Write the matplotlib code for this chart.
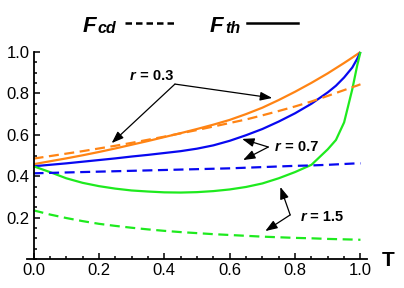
import matplotlib
matplotlib.use("Agg")
import matplotlib.pyplot as plt
from matplotlib.lines import Line2D
from matplotlib.ticker import MultipleLocator

plt.rcParams['font.family'] = ['Liberation Sans', 'DejaVu Sans']

# values
T = [0, .05, .1, .15, .2, .25, .3, .35, .4, .45, .5, .55, .6, .65, .7, .75,
     .8, .85, .9, .925, .95, .975, .99, 1.0]

fth_03 = [0.458, 0.472, 0.486, 0.501, 0.517, 0.534, 0.552, 0.57, 0.589, 0.608,
          0.628, 0.649, 0.672, 0.70, 0.731, 0.768, 0.808, 0.851, 0.897, 0.922,
          0.947, 0.973, 0.989, 1.0]
fcd_03 = [0.485, 0.497, 0.509, 0.521, 0.534, 0.547, 0.561, 0.576, 0.591, 0.607,
          0.623, 0.64, 0.657, 0.674, 0.694, 0.715, 0.737, 0.761, 0.788, 0.802,
          0.816, 0.83, 0.838, 0.844]
fth_07 = [0.448, 0.455, 0.462, 0.47, 0.478, 0.486, 0.495, 0.503, 0.512, 0.521,
          0.533, 0.549, 0.571, 0.598, 0.628, 0.664, 0.704, 0.75, 0.805, 0.837,
          0.877, 0.925, 0.967, 1.0]
fcd_07 = [0.414, 0.416, 0.418, 0.42, 0.422, 0.424, 0.426, 0.428, 0.43, 0.432,
          0.434, 0.436, 0.438, 0.441, 0.444, 0.447, 0.45, 0.452, 0.455, 0.457,
          0.459, 0.461, 0.462, 0.462]
fth_15 = [0.448, 0.42, 0.39, 0.368, 0.352, 0.34, 0.331, 0.326, 0.322, 0.321,
          0.323, 0.328, 0.336, 0.348, 0.365, 0.39, 0.42, 0.455, 0.53, 0.575,
          0.66, 0.82, 0.935, 1.0]
fcd_15 = [0.235, 0.215, 0.198, 0.183, 0.17, 0.16, 0.151, 0.143, 0.136, 0.13,
          0.125, 0.12, 0.116, 0.112, 0.108, 0.105, 0.102, 0.1, 0.097, 0.096,
          0.095, 0.094, 0.093, 0.093]

orange = '#FF8414'
blue = '#0808F0'
green = '#1EEA1E'

fig = plt.figure(figsize=(4.04, 2.88), dpi=100)
ax = fig.add_axes([27 / 404, 29 / 288, 340 / 404, 207 / 288])

lw = 1.6
dash = (0, (4.5, 2.5))
for y, c in [(fth_03, orange), (fth_07, blue), (fth_15, green)]:
    ax.plot(T, y, color=c, lw=lw, clip_on=False, solid_capstyle='butt')
for y, c in [(fcd_03, orange), (fcd_07, blue), (fcd_15, green)]:
    ax.plot(T, y, color=c, lw=lw, ls=dash, clip_on=False)

ax.set_xlim(-0.02, 1.02)
ax.set_ylim(0, 1.0)
ax.spines['left'].set_position(('data', 0))
ax.spines['top'].set_visible(False)
ax.spines['right'].set_visible(False)
for s in ['left', 'bottom']:
    ax.spines[s].set_linewidth(1.3)
ax.set_xticks([0, 0.2, 0.4, 0.6, 0.8, 1.0])
ax.set_yticks([0.2, 0.4, 0.6, 0.8, 1.0])
ax.xaxis.set_minor_locator(MultipleLocator(0.05))
ax.yaxis.set_minor_locator(MultipleLocator(0.05))
ax.tick_params(which='both', direction='in', width=1.1, labelsize=12, pad=3)
ax.tick_params(which='major', length=4.5)
ax.tick_params(which='minor', length=2.5)
ax.set_xticklabels(['0.0', '0.2', '0.4', '0.6', '0.8', '1.0'])
ax.set_yticklabels(['0.2', '0.4', '0.6', '0.8', '1.0'])

fig.text(382 / 404, 1 - 261 / 288, 'T', fontsize=15, fontweight='bold',
         va='center', ha='left')

# arrows
aprops = dict(arrowstyle='-|>,head_length=0.6,head_width=0.22', color='black',
              lw=0.9, shrinkA=0, shrinkB=0, mutation_scale=12)
arrows = [
    ((0.4325, 0.845), (0.239, 0.560)),
    ((0.4325, 0.845), (0.730, 0.778)),
    ((0.718, 0.541), (0.638, 0.580)),
    ((0.718, 0.541), (0.641, 0.478)),
    ((0.785, 0.213), (0.755, 0.348)),
    ((0.785, 0.213), (0.709, 0.135)),
]
for start, end in arrows:
    ax.annotate('', xy=end, xytext=start, arrowprops=aprops)

labels = [((0.295, 0.885), '0.3'), ((0.739, 0.541), '0.7'),
          ((0.816, 0.203), '1.5')]
for (x, y), v in labels:
    t = ax.text(x, y, 'r', fontsize=10.5, fontweight='bold', fontstyle='italic',
                va='center', ha='left')
    ax.annotate(' = ' + v, xy=(1, 0), xycoords=t, fontsize=10.5,
                fontweight='bold', va='bottom', ha='left')

# legend on top
fig.text(83 / 404, 1 - 32 / 288, 'F', fontsize=16, fontweight='bold',
         fontstyle='italic', va='baseline')
fig.text(98 / 404, 1 - 33 / 288, 'cd', fontsize=11.5, fontweight='bold',
         fontstyle='italic', va='baseline')
fig.text(210 / 404, 1 - 32 / 288, 'F', fontsize=16, fontweight='bold',
         fontstyle='italic', va='baseline')
fig.text(225 / 404, 1 - 33 / 288, 'th', fontsize=11.5, fontweight='bold',
         fontstyle='italic', va='baseline')
fig.add_artist(Line2D([125 / 404, 175 / 404], [1 - 23 / 288] * 2, color='black',
                      lw=1.8, ls=(0, (2.6, 1.6))))
fig.add_artist(Line2D([247 / 404, 298 / 404], [1 - 23 / 288] * 2, color='black',
                      lw=1.8))

fig.savefig('out.png', dpi=100)
